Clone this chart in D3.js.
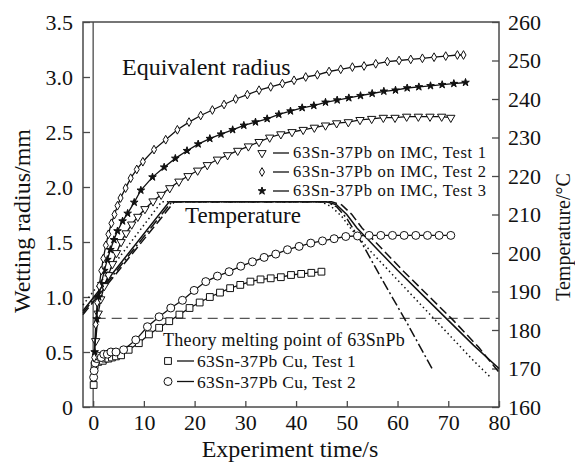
<!DOCTYPE html>
<html><head><meta charset="utf-8">
<script src="https://cdn.jsdelivr.net/npm/d3@7"></script>
<style>body{margin:0;background:#fff}svg{font-family:"Liberation Serif","Times New Roman",serif}</style>
</head><body>
<svg id="c" width="575" height="466"></svg>
<script>
// ---- data ----
const imc2T = [0.2,0.5,0.8,1.2,1.6,2.0,2.5,3.0,3.6,4.2,4.8,5.4,6.4,7.4,8.6,9.8,12,14.3,16.6,18.9,21.2,23.5,25.8,28.1,30.4,32.7,35,37.3,39.6,41.9,44.2,46.5,48.8,51.1,53.4,55.7,58,60.3,62.6,64.9,67.2,69.5,71.8,73];
const imc2R = [0.45,0.75,0.95,1.1,1.24,1.35,1.47,1.57,1.67,1.75,1.83,1.9,1.99,2.08,2.16,2.23,2.34,2.43,2.52,2.59,2.65,2.7,2.75,2.8,2.84,2.88,2.91,2.94,2.97,3.0,3.02,3.05,3.07,3.09,3.1,3.12,3.14,3.15,3.16,3.17,3.18,3.19,3.2,3.2];
const imc3T = [0.3,0.7,1.1,1.6,2.2,2.8,3.4,4.1,4.8,5.8,6.8,8.1,9.4,11.7,14,16.2,18.5,20.7,23,25.2,27.5,29.7,32,34.3,36.6,38.9,41.2,43.5,45.8,48.1,50.4,52.7,55,57.3,59.6,61.9,64.2,66.5,68.8,71.1,73.4];
const imc3R = [0.5,0.8,1.0,1.12,1.24,1.34,1.43,1.52,1.6,1.69,1.76,1.86,1.97,2.09,2.18,2.26,2.33,2.39,2.44,2.48,2.52,2.56,2.59,2.62,2.66,2.69,2.72,2.74,2.77,2.79,2.81,2.83,2.85,2.87,2.88,2.9,2.91,2.92,2.93,2.94,2.95];
const imc1T = [0.5,1,1.5,2.2,3,3.8,4.6,5.5,6.5,7.6,8.8,10.2,11.8,13.4,15.1,16.9,18.7,20.6,22.5,24.5,26.5,28.5,30.6,32.7,34.8,37,39.2,41.4,43.6,45.8,48,50.3,52.6,54.9,57.2,59.5,61.8,64.1,66.4,68.7,70.5];
const imc1R = [0.6,0.85,0.98,1.1,1.2,1.3,1.4,1.5,1.58,1.66,1.73,1.8,1.87,1.93,1.99,2.05,2.1,2.15,2.2,2.25,2.29,2.33,2.37,2.41,2.45,2.48,2.5,2.52,2.54,2.56,2.58,2.59,2.61,2.62,2.63,2.63,2.64,2.64,2.64,2.64,2.63];
const cu1T = [0.1,0.3,0.6,1.0,1.4,1.9,2.4,3.0,3.7,4.5,5.5,7,9,11,13,15,17,19,21,23,25,27,29,31,33,35,37,39,41,43,45];
const cu1R = [0.2,0.38,0.42,0.41,0.43,0.42,0.44,0.44,0.45,0.46,0.47,0.52,0.58,0.66,0.72,0.78,0.84,0.9,0.95,1.0,1.04,1.08,1.11,1.14,1.16,1.17,1.18,1.2,1.21,1.22,1.23];
const cu2T = [0.1,0.2,0.4,0.7,1.1,1.6,2.1,2.8,3.5,4.5,6,8.4,10.7,13,15.3,17.6,19.9,22.2,24.5,26.8,29.1,31.4,33.7,36,38.3,40.6,42.9,45.2,47.5,49.8,52.1,54.4,56.7,59,61.3,63.6,65.9,68.2,70.5];
const cu2R = [0.27,0.33,0.4,0.44,0.46,0.45,0.48,0.48,0.5,0.5,0.52,0.61,0.73,0.82,0.9,0.97,1.06,1.14,1.19,1.23,1.28,1.32,1.36,1.39,1.43,1.46,1.49,1.51,1.53,1.55,1.555,1.56,1.56,1.56,1.56,1.56,1.56,1.56,1.56];
// temperature curves (°C)
const tSolidT = [-2,15,46,48,50,52,56,60,65,70,75,80];
const tSolid  = [185,213.3,213.3,212.5,210,206.5,201,195.5,189,182.5,176,170];
const tDashT  = [-2,16,47,49,51,53,57,61,66,71,76,80];
const tDash   = [184,213.3,213.3,212.5,210,206.5,201,195.5,189,182.5,175.5,169];
const tDotT   = [-2,13.5,45,47,49,51,55,60,65,70,75,78.5];
const tDot    = [186.5,213.3,213.3,212,209.5,206,200,193,186,179,172,167.5];
const tDDT    = [-2,15.5,46,48,50,53,57,62,67];
const tDD     = [184.5,213.3,213.3,212,209,202.5,193,181.5,169.5];
const meltT = 183;
const xTicks = [0,10,20,30,40,50,60,70,80];
const yTicks = [0,0.5,1,1.5,2,2.5,3,3.5];
const tTicks = [160,170,180,190,200,210,220,230,240,250,260];

// ---- scales ----
const svg = d3.select("#c");
const x = d3.scaleLinear().domain([-2,80]).range([83,499]);
const y = d3.scaleLinear().domain([0,3.5]).range([407,22]);
const yt = d3.scaleLinear().domain([160,260]).range([407,22]);
const AX = "#4a4a4a";

// axes
const gl = svg.append("g").attr("transform","translate(83,0)")
  .call(d3.axisLeft(y).tickValues(yTicks).tickSize(-7).tickPadding(10)
  .tickFormat(d=>d===0?"0":d.toFixed(1)));
const gr = svg.append("g").attr("transform","translate(499,0)")
  .call(d3.axisRight(yt).tickValues(tTicks).tickSize(-7).tickPadding(9));
const gb = svg.append("g").attr("transform","translate(0,407)")
  .call(d3.axisBottom(x).tickValues(xTicks).tickSize(-6).tickPadding(7));
[gl,gr,gb].forEach(g=>{
  g.select(".domain").remove();
  g.selectAll("line").attr("stroke",AX).attr("stroke-width",1.3);
  g.selectAll("text").attr("font-size",22).attr("fill","#111").attr("font-family","Liberation Serif");
});
svg.append("rect").attr("x",83).attr("y",22).attr("width",416).attr("height",385)
  .attr("fill","none").attr("stroke",AX).attr("stroke-width",1.5);
svg.append("line").attr("x1",x(0)).attr("x2",x(0)).attr("y1",22).attr("y2",407)
  .attr("stroke",AX).attr("stroke-width",1.3);

// melting point line
svg.append("line").attr("x1",x(0.5)).attr("x2",x(80)).attr("y1",yt(meltT)).attr("y2",yt(meltT))
  .attr("stroke","#555").attr("stroke-width",1.3).attr("stroke-dasharray","10,6");

// temperature lines
const tl = d3.line().x(d=>x(d[0])).y(d=>yt(d[1]));
const tempSets = [
  [tSolidT,tSolid,null],
  [tDashT,tDash,"9,4"],
  [tDotT,tDot,"1.5,3"],
  [tDDT,tDD,"10,3,2,3"]
];
tempSets.forEach(([ts,vs,da])=>{
  svg.append("path").datum(ts.map((t,i)=>[t,vs[i]])).attr("d",tl)
    .attr("fill","none").attr("stroke","#111").attr("stroke-width",1.5)
    .attr("stroke-dasharray",da);
});

// radius series
const rl = d3.line().x(d=>x(d[0])).y(d=>y(d[1]));
const sym = {
  tri: d3.symbol().type(d3.symbolTriangle).size(30),
  dia: d3.symbol().type(d3.symbolDiamond).size(22),
  star: d3.symbol().type(d3.symbolStar).size(18),
  sq: d3.symbol().type(d3.symbolSquare).size(46),
  circ: d3.symbol().type(d3.symbolCircle).size(50)
};
function marker(g,type,cx,cy){
  const p = g.append("path").attr("d",sym[type]()).attr("stroke","#111").attr("stroke-width",1)
    .attr("fill",type==="star"?"#111":"#fff");
  p.attr("transform",`translate(${cx},${cy})`+(type==="tri"?" rotate(180)":""));
}
const series = [
  [cu1T,cu1R,"sq"],[cu2T,cu2R,"circ"],
  [imc1T,imc1R,"tri"],[imc3T,imc3R,"star"],[imc2T,imc2R,"dia"]
];
series.forEach(([ts,vs,type])=>{
  const data = ts.map((t,i)=>[t,vs[i]]);
  svg.append("path").datum(data).attr("d",rl).attr("fill","none").attr("stroke","#111").attr("stroke-width",1.3);
  const g = svg.append("g");
  data.forEach(d=>marker(g,type,x(d[0]),y(d[1])));
});

// labels
const txt = (s,xx,yy,fs,ls)=>svg.append("text").attr("x",xx).attr("y",yy).attr("font-size",fs)
  .attr("fill","#111").attr("letter-spacing",ls||0).text(s);
txt("Equivalent radius",122,75,24);
txt("Temperature",185,223,23);
txt("Theory melting point of 63SnPb",163,346,18,0.3);

// legends
const lg = svg.append("g");
const imcLeg = [["tri","63Sn-37Pb on IMC, Test 1",158],["dia","63Sn-37Pb on IMC, Test 2",177],["star","63Sn-37Pb on IMC, Test 3",196]];
imcLeg.forEach(([t,s,b])=>{
  marker(lg,t,262,b-5);
  lg.append("line").attr("x1",273).attr("x2",289).attr("y1",b-5).attr("y2",b-5).attr("stroke","#111").attr("stroke-width",1.3);
  txt(s,293,b,16.5,0.7);
});
const cuLeg = [["sq","63Sn-37Pb Cu, Test 1",367],["circ","63Sn-37Pb Cu, Test 2",387.5]];
cuLeg.forEach(([t,s,b])=>{
  marker(lg,t,168,b-6);
  lg.append("line").attr("x1",177).attr("x2",194).attr("y1",b-6).attr("y2",b-6).attr("stroke","#111").attr("stroke-width",1.3);
  txt(s,197,b,17.5,0.3);
});

// axis titles
svg.append("text").attr("transform","translate(30,221) rotate(-90)").attr("text-anchor","middle")
  .attr("font-size",24).attr("fill","#111").text("Wetting radius/mm");
svg.append("text").attr("transform","translate(570,237) rotate(-90)").attr("text-anchor","middle")
  .attr("font-size",20).attr("fill","#111").text("Temperature/°C");
svg.append("text").attr("x",290).attr("y",457).attr("text-anchor","middle")
  .attr("font-size",24).attr("fill","#111").text("Experiment time/s");
</script>
</body></html>
